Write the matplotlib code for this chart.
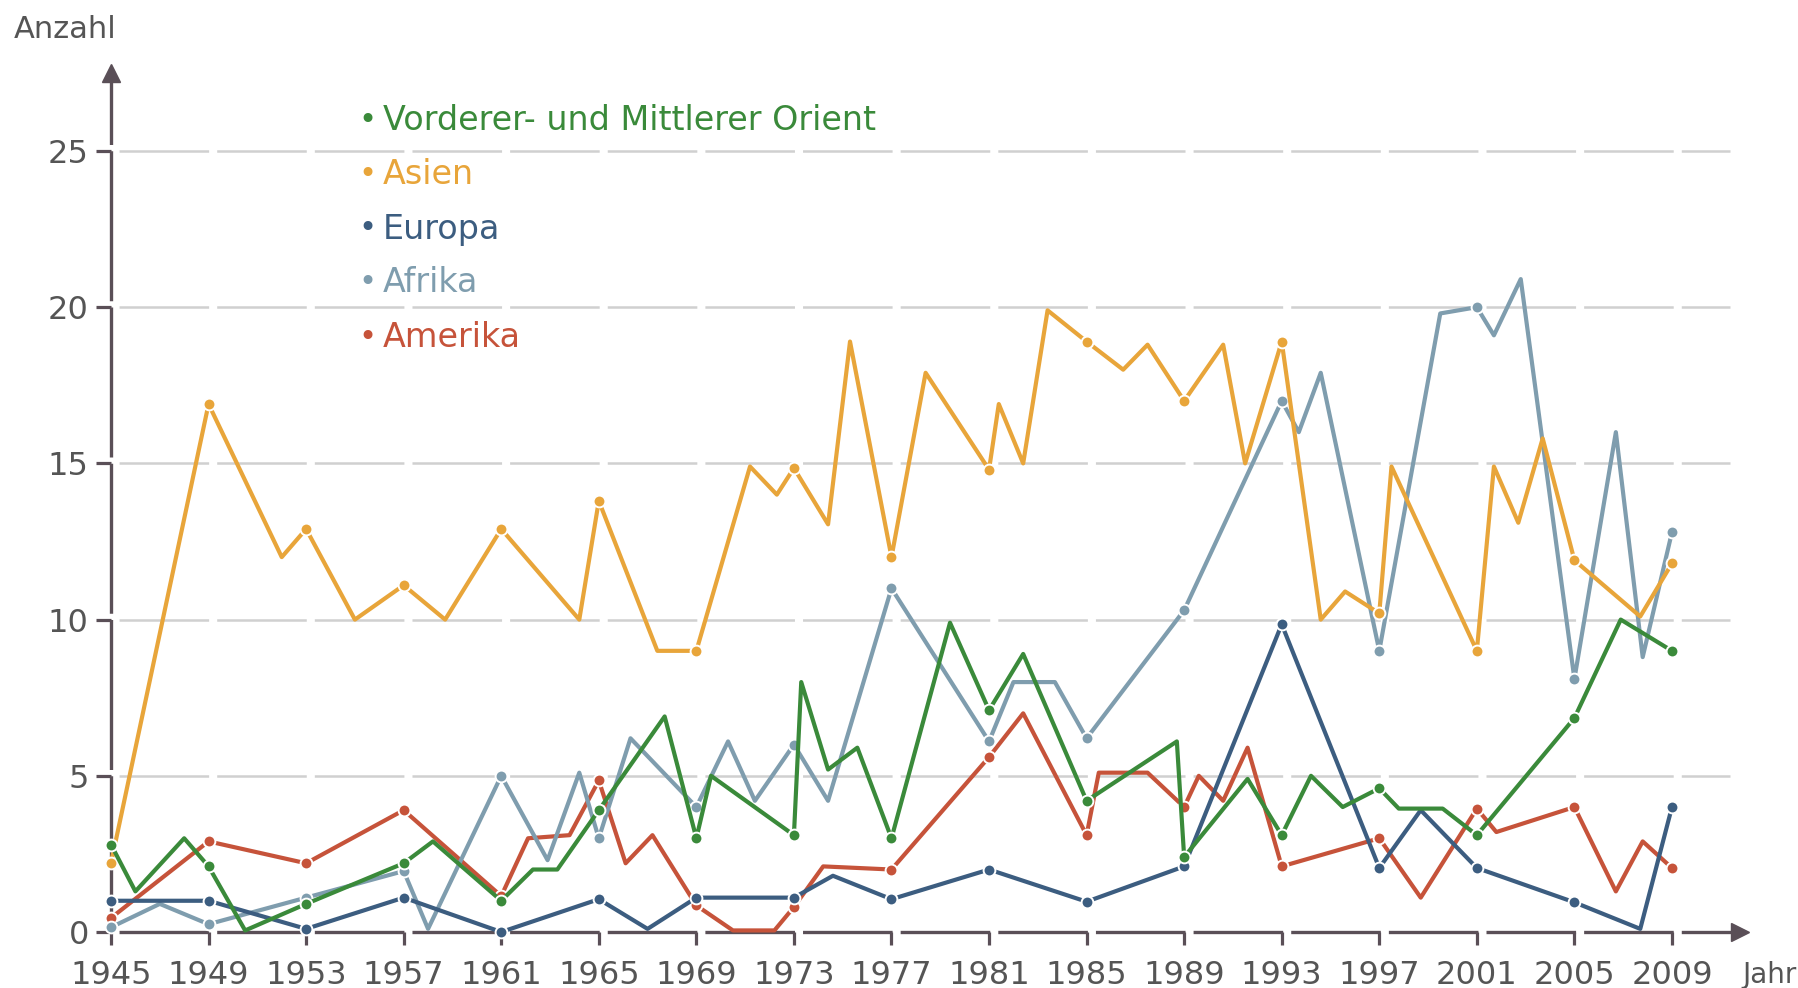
import matplotlib.pyplot as plt

plt.rcParams['font.family'] = ['DejaVu Sans']
plt.rcParams['lines.scale_dashes'] = False

# Kriege nach Region, 1945-2009
orient_x = [1945, 1946, 1948, 1949, 1950.5, 1953, 1957, 1958.2, 1961, 1962.3, 1963.3, 1965,
            1967.7, 1969, 1969.6, 1973, 1973.3, 1974.4, 1975.6, 1977, 1979.4, 1981, 1982.4,
            1985, 1988.7, 1989, 1991.6, 1993, 1994.2, 1995.5, 1997, 1997.8, 1999.6, 2001,
            2005, 2006.9, 2009]
orient_y = [2.8, 1.3, 3.0, 2.1, 0.05, 0.9, 2.2, 2.9, 1.0, 2.0, 2.0, 3.9,
            6.9, 3.0, 5.0, 3.1, 8.0, 5.2, 5.9, 3.0, 9.9, 7.1, 8.9,
            4.2, 6.1, 2.4, 4.9, 3.1, 5.0, 4.0, 4.6, 3.95, 3.95, 3.1,
            6.85, 10.0, 9.0]

asien_x = [1945, 1949, 1952, 1953, 1955, 1957, 1958.7, 1961, 1964.2, 1965, 1967.4, 1969,
           1971.2, 1972.3, 1973, 1974.4, 1975.3, 1977, 1978.4, 1981, 1981.4, 1982.4, 1983.4,
           1985, 1986.5, 1987.5, 1989, 1990.6, 1991.5, 1993, 1994.6, 1995.6, 1997, 1997.5,
           2001, 2001.7, 2002.7, 2003.7, 2005, 2007.7, 2009]
asien_y = [2.2, 16.9, 12.0, 12.9, 10.0, 11.1, 10.0, 12.9, 10.0, 13.8, 9.0, 9.0,
           14.9, 14.0, 14.85, 13.05, 18.9, 12.0, 17.9, 14.8, 16.9, 15.0, 19.9,
           18.9, 18.0, 18.8, 17.0, 18.8, 15.0, 18.9, 10.0, 10.9, 10.2, 14.9,
           9.0, 14.9, 13.1, 15.8, 11.9, 10.1, 11.8]

europa_x = [1945, 1949, 1953, 1957, 1961, 1965, 1967, 1969, 1973, 1974.6, 1977, 1981,
            1985, 1989, 1993, 1997, 1998.7, 2001, 2005, 2007.7, 2009]
europa_y = [1.0, 1.0, 0.1, 1.1, 0.0, 1.05, 0.1, 1.1, 1.1, 1.8, 1.05, 2.0,
            0.97, 2.1, 9.85, 2.05, 3.9, 2.05, 0.95, 0.1, 4.0]

afrika_x = [1945, 1947, 1949, 1953, 1957, 1958, 1961, 1962.9, 1964.2, 1965, 1966.3, 1969,
            1970.3, 1971.4, 1973, 1974.4, 1977, 1981, 1982, 1983.7, 1985, 1989, 1993,
            1993.7, 1994.6, 1997, 1999.5, 2001, 2001.7, 2002.8, 2005, 2006.7, 2007.8, 2009]
afrika_y = [0.15, 0.9, 0.25, 1.1, 1.95, 0.1, 5.0, 2.3, 5.1, 3.0, 6.2, 4.0,
            6.1, 4.2, 6.0, 4.2, 11.0, 6.1, 8.0, 8.0, 6.2, 10.3, 17.0,
            16.0, 17.9, 9.0, 19.8, 20.0, 19.1, 20.9, 8.1, 16.0, 8.8, 12.8]

amerika_x = [1945, 1949, 1953, 1957, 1961, 1962.1, 1963.8, 1965, 1966.1, 1967.2, 1969,
             1970.5, 1972.2, 1973, 1974.2, 1977, 1981, 1982.4, 1985, 1985.5, 1987.5, 1989,
             1989.6, 1990.6, 1991.6, 1993, 1997, 1998.7, 2001, 2001.8, 2005, 2006.7, 2007.8, 2009]
amerika_y = [0.45, 2.9, 2.2, 3.9, 1.15, 3.0, 3.1, 4.85, 2.2, 3.1, 0.85,
             0.05, 0.05, 0.8, 2.1, 2.0, 5.6, 7.0, 3.1, 5.1, 5.1, 4.0,
             5.0, 4.2, 5.9, 2.1, 3.0, 1.1, 3.95, 3.2, 4.0, 1.3, 2.9, 2.05]

labels = ['Vorderer- und Mittlerer Orient', 'Asien', 'Europa', 'Afrika', 'Amerika']
colors = ['#3a8a3a', '#e8a53a', '#3c5d80', '#7f9dae', '#c6533a']
xs = [orient_x, asien_x, europa_x, afrika_x, amerika_x]
ys = [orient_y, asien_y, europa_y, afrika_y, amerika_y]

tick_years = list(range(1945, 2010, 4))
y_ticks = [0, 5, 10, 15, 20, 25]

axis_col = '#5a4f57'
text_col = '#555555'

W, H = 1798, 988
fig = plt.figure(figsize=(W / 100, H / 100), dpi=100)
ax = fig.add_axes([111 / W, 56 / H, 1636 / W, 867 / H])
xmax = 1945 + 1636 / 24.39
ymax = 867 / 31.24
ax.set_xlim(1945, xmax)
ax.set_ylim(0, ymax)
for s in ax.spines.values():
    s.set_visible(False)

# gestrichelte Gitterlinien, Lücke direkt nach jedem Tick
for v in y_ticks[1:]:
    ax.plot([1945, 2011.4], [v, v], color='#d0d0d0', lw=1.8,
            ls=(64.5, (64.5, 5.8)), zorder=1)

# Achsen mit Pfeilen
ax.plot([1945, xmax - 0.3], [0, 0], color=axis_col, lw=2.4,
        ls=(64.5, (64.5, 5.8)), clip_on=False, zorder=2)
ax.plot([1945, 1945], [0, ymax - 0.3], color=axis_col, lw=2.4,
        ls=(108.0, (108.0, 4.5)), clip_on=False, zorder=2)
ax.plot([xmax - 0.3], [0], '>', ms=13, color=axis_col, clip_on=False, zorder=2)
ax.plot([1945], [ymax - 0.25], '^', ms=13, color=axis_col, clip_on=False, zorder=2)

for i in reversed(range(len(labels))):
    ax.plot(xs[i], ys[i], color=colors[i], lw=3.0, zorder=3 + (5 - i), clip_on=False)
    mx = [x for x in xs[i] if x in tick_years]
    my = [y for x, y in zip(xs[i], ys[i]) if x in tick_years]
    ax.plot(mx, my, 'o', ms=8.5, color=colors[i], mec='white', mew=1.4,
            zorder=3 + (5 - i), clip_on=False)

ax.set_xticks(tick_years)
ax.set_yticks(y_ticks)
ax.tick_params(axis='x', length=9, width=2.3, color=axis_col, pad=11,
               labelsize=23, labelcolor=text_col)
ax.tick_params(axis='y', length=11, width=2.3, color=axis_col, pad=5,
               labelsize=23, labelcolor=text_col)

fig.text(14 / W, 1 - 29 / H, 'Anzahl', fontsize=22, color=text_col, va='center', ha='left')
fig.text(1797 / W, 1 - 975 / H, 'Jahr', fontsize=20, color=text_col, va='center', ha='right')

# Legende oben links
leg_y = [120, 175, 229, 283, 337]
for lab, c, yy in zip(labels, colors, leg_y):
    fig.text(358 / W, 1 - yy / H, '\u2022', fontsize=22, color=c, va='center', ha='left')
    fig.text(383 / W, 1 - yy / H, lab, fontsize=24, color=c, va='center', ha='left')

fig.savefig('out.png', dpi=100)
